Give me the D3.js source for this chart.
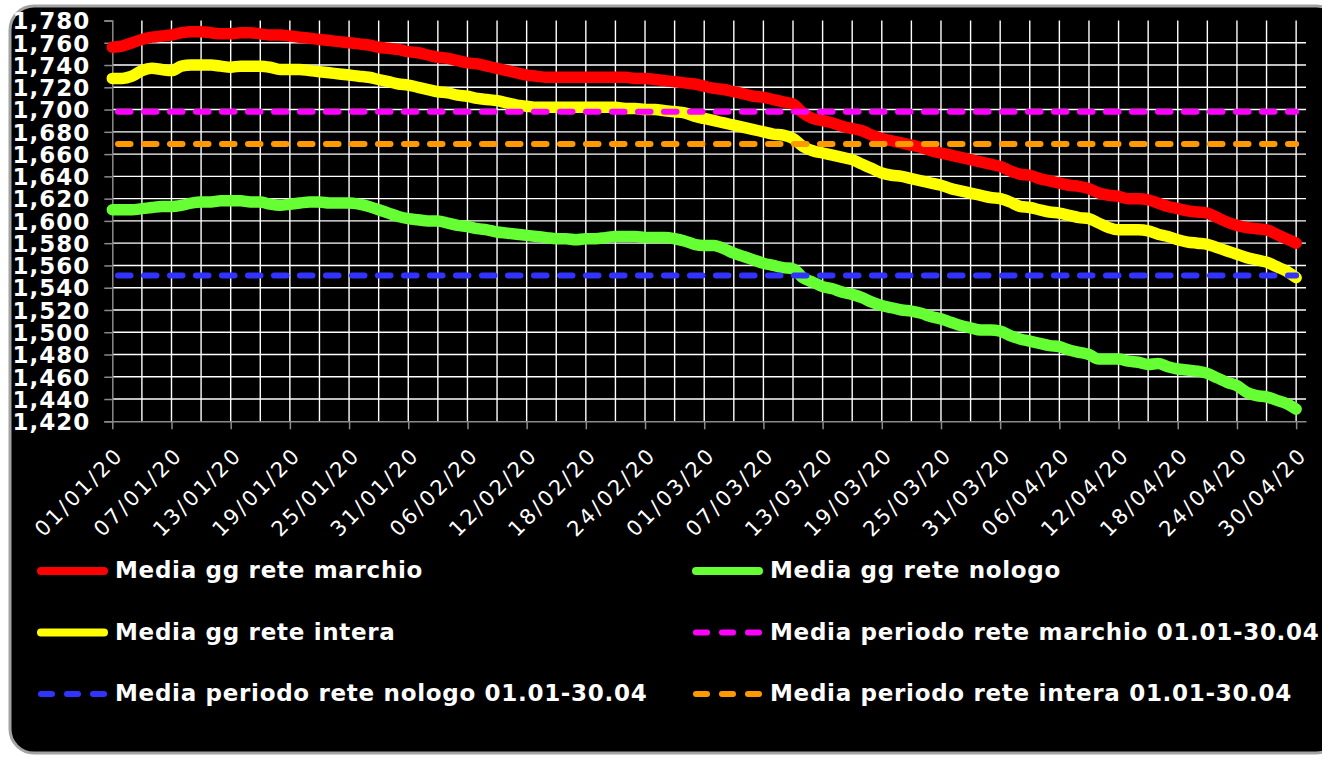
<!DOCTYPE html>
<html>
<head>
<meta charset="utf-8">
<script src="https://d3js.org/d3.v7.min.js"></script>
<style>
  html, body { margin: 0; padding: 0; background: #fff; }
  svg { display: block; font-family: 'DejaVu Sans', Verdana, sans-serif; }
</style>
</head>
<body>
<script>
// daily values from 01/01/20 to 30/04/20
const startDate = new Date(2020, 0, 1)

const marchio = [
  1756, 1757, 1760, 1763, 1765, 1766, 1767, 1769, 1770, 1770,
  1769, 1768, 1768, 1769, 1769, 1768, 1767, 1767, 1766, 1765,
  1764, 1763, 1762, 1761, 1760, 1759, 1758, 1756, 1755, 1754,
  1752, 1751, 1749, 1747, 1746, 1744, 1742, 1741, 1739, 1737,
  1735, 1733, 1731, 1730, 1729, 1729, 1729, 1729, 1729, 1729,
  1729, 1729, 1729, 1728, 1728, 1727, 1726, 1725, 1724, 1723,
  1721, 1719, 1718, 1716, 1714, 1712, 1711, 1709, 1707, 1705,
  1697, 1692, 1690, 1688, 1685, 1683, 1681, 1677, 1674, 1672,
  1670, 1668, 1666, 1663, 1661, 1659, 1657, 1655, 1653, 1651,
  1649, 1645, 1642, 1641, 1638, 1636, 1634, 1632, 1631, 1629,
  1625, 1623, 1622, 1620, 1620, 1619, 1616, 1613, 1611, 1609,
  1608, 1607, 1603, 1599, 1596, 1594, 1593, 1592, 1588, 1584,
  1580
]

const intera = [
  1728, 1728, 1730, 1735, 1737, 1736, 1735, 1739, 1740, 1740,
  1740, 1739, 1738, 1739, 1739, 1739, 1738, 1736, 1736, 1736,
  1735, 1734, 1733, 1732, 1731, 1730, 1729, 1727, 1725, 1723,
  1722, 1720, 1718, 1716, 1715, 1713, 1712, 1710, 1709, 1708,
  1706, 1704, 1703, 1702, 1702, 1702, 1702, 1702, 1702, 1702,
  1702, 1702, 1701, 1701, 1700, 1700, 1699, 1698, 1697, 1694,
  1692, 1690, 1688, 1686, 1684, 1682, 1680, 1678, 1677, 1674,
  1667, 1663, 1661, 1659, 1657, 1655, 1651, 1647, 1643, 1641,
  1640, 1638, 1636, 1634, 1632, 1629, 1627, 1625, 1623, 1621,
  1620, 1617, 1613, 1612, 1610, 1608, 1607, 1605, 1603, 1602,
  1598, 1594, 1592, 1592, 1592, 1591, 1588, 1586, 1583, 1581,
  1580, 1579, 1576, 1573, 1570, 1567, 1565, 1563, 1559, 1555,
  1549
]

const nologo = [
  1610, 1610, 1610, 1611, 1612, 1613, 1613, 1614, 1616, 1617,
  1617, 1618, 1618, 1618, 1617, 1617, 1615, 1614, 1615, 1616,
  1617, 1617, 1616, 1616, 1616, 1615, 1613, 1610, 1607, 1604,
  1602, 1601, 1600, 1600, 1598, 1596, 1595, 1593, 1592, 1590,
  1589, 1588, 1587, 1586, 1585, 1584, 1584, 1583, 1584, 1584,
  1585, 1586, 1586, 1586, 1585, 1585, 1585, 1584, 1582, 1579,
  1578, 1578, 1575, 1571, 1568, 1565, 1562, 1560, 1558, 1557,
  1549, 1545, 1541, 1539, 1536, 1534, 1531, 1527, 1524, 1522,
  1520, 1519, 1517, 1514, 1512, 1509, 1506, 1504, 1502, 1502,
  1501, 1497, 1494, 1492, 1490, 1488, 1487, 1484, 1482, 1480,
  1476, 1476, 1476, 1474, 1473, 1471, 1472, 1469, 1467, 1466,
  1465, 1463, 1459, 1455, 1452, 1446, 1443, 1442, 1439, 1436,
  1431
]

// period averages 01.01-30.04
const avgMarchio = 1698
const avgNologo = 1551
const avgIntera = 1669

const xTickLabels = [
  '01/01/20', '07/01/20', '13/01/20', '19/01/20', '25/01/20', '31/01/20',
  '06/02/20', '12/02/20', '18/02/20', '24/02/20', '01/03/20', '07/03/20',
  '13/03/20', '19/03/20', '25/03/20', '31/03/20', '06/04/20', '12/04/20',
  '18/04/20', '24/04/20', '30/04/20'
]

const yTicks = d3.range(1420, 1781, 20)

const seriesNames = [
  'Media gg rete marchio',
  'Media gg rete nologo',
  'Media gg rete intera',
  'Media periodo rete marchio 01.01-30.04',
  'Media periodo rete nologo 01.01-30.04',
  'Media periodo rete intera 01.01-30.04'
]

const width = 1322
const height = 757
const plot = { left: 112.3, right: 1306, top: 20.5, bottom: 421.3 }

const dates = marchio.map((d, i) => d3.timeDay.offset(startDate, i))
const lastDate = dates[dates.length - 1]

// category axis ends a bit past the last point, like the source
const xScale = d3.scaleTime()
  .domain([startDate, d3.timeDay.offset(startDate, 121.85)])
  .range([plot.left, plot.right])
const yScale = d3.scaleLinear()
  .domain([1420, 1780])
  .range([plot.bottom, plot.top])

const svg = d3.select('body').append('svg')
  .attr('width', width)
  .attr('height', height)

// frame
svg.append('rect')
  .attr('x', 10).attr('y', 6)
  .attr('width', 1330).attr('height', 747)
  .attr('rx', 24).attr('ry', 24)
  .attr('fill', '#000')
  .attr('stroke', '#a3a3a3')
  .attr('stroke-width', 3)

// gridlines
const grid = svg.append('g').attr('class', 'grid')
grid.selectAll('line.h')
  .data(yTicks.filter(v => v > 1420 && v < 1780))
  .join('line')
  .attr('class', 'h')
  .attr('x1', plot.left).attr('x2', plot.right)
  .attr('y1', d => yScale(d)).attr('y2', d => yScale(d))
  .attr('stroke', '#fff').attr('stroke-width', 1.4)

const gridDays = dates.filter((d, i) => i > 0 && i % 3 === 0)
grid.selectAll('line.v')
  .data(gridDays)
  .join('line')
  .attr('class', 'v')
  .attr('x1', d => xScale(d)).attr('x2', d => xScale(d))
  .attr('y1', plot.top).attr('y2', plot.bottom)
  .attr('stroke', '#fff').attr('stroke-width', 1.4)

// y axis
const yAxis = svg.append('g')
  .attr('transform', `translate(${plot.left},0)`)
  .call(d3.axisLeft(yScale).tickValues(yTicks).tickSize(8).tickPadding(14)
    .tickFormat(d3.format(',')))
yAxis.select('.domain').attr('stroke', '#8a8a8a').attr('stroke-width', 1.5)
yAxis.selectAll('.tick line').attr('stroke', '#8a8a8a').attr('stroke-width', 1.5)
yAxis.selectAll('.tick text')
  .attr('fill', '#fff')
  .attr('font-family', "'DejaVu Sans', Verdana, sans-serif")
  .attr('font-weight', 'bold')
  .attr('font-size', 23)
  .attr('letter-spacing', 1)
  .attr('dy', '0.36em')

// x axis
const xTickDates = xTickLabels.map(s => d3.timeParse('%d/%m/%y')(s))
const xAxis = svg.append('g')
  .attr('transform', `translate(0,${plot.bottom})`)
  .call(d3.axisBottom(xScale).tickValues(xTickDates).tickSize(8)
    .tickFormat((d, i) => xTickLabels[i]).tickSizeOuter(0))
xAxis.select('.domain').attr('stroke', '#8a8a8a').attr('stroke-width', 1.5)
xAxis.selectAll('.tick line').attr('stroke', '#8a8a8a').attr('stroke-width', 1.5)
xAxis.selectAll('.tick text')
  .attr('fill', '#fff')
  .attr('font-family', "'DejaVu Sans', Verdana, sans-serif")
  .attr('font-size', 21)
  .attr('letter-spacing', 2.6)
  .attr('text-anchor', 'end')
  .attr('dy', 0)
  .attr('y', 0)
  .attr('transform', 'translate(12,35) rotate(-45)')

// series
const line = d3.line()
  .x((d, i) => xScale(dates[i]))
  .y(d => yScale(d))
  .curve(d3.curveMonotoneX)

const solid = [
  { values: marchio, color: '#ff0000' },
  { values: nologo, color: '#66ff33' },
  { values: intera, color: '#ffff00' }
]
svg.append('g').selectAll('path')
  .data(solid)
  .join('path')
  .attr('d', d => line(d.values))
  .attr('fill', 'none')
  .attr('stroke', d => d.color)
  .attr('stroke-width', 11.5)
  .attr('stroke-linejoin', 'round')
  .attr('stroke-linecap', 'round')

const dashed = [
  { value: avgMarchio, color: '#ff00ff' },
  { value: avgNologo, color: '#3333ff' },
  { value: avgIntera, color: '#ff9900' }
]
svg.append('g').selectAll('line')
  .data(dashed)
  .join('line')
  .attr('x1', xScale(startDate)).attr('x2', xScale(lastDate))
  .attr('y1', d => yScale(d.value)).attr('y2', d => yScale(d.value))
  .attr('stroke', d => d.color)
  .attr('stroke-width', 6)
  .attr('stroke-linecap', 'round')
  .attr('stroke-dasharray', '12.5,13.5')
  .attr('stroke-dashoffset', 20.3)

// legend, filled row by row in two columns
const legendItems = seriesNames.map((name, i) => ({
  name,
  color: [solid[0].color, solid[1].color, solid[2].color, dashed[0].color, dashed[1].color, dashed[2].color][i],
  dashed: i >= 3
}))
const legend = svg.append('g')
  .selectAll('g')
  .data(legendItems)
  .join('g')
  .attr('transform', (d, i) => `translate(${i % 2 === 0 ? 37 : 692},${571 + Math.floor(i / 2) * 61.5})`)

legend.append('line')
  .attr('x1', 4).attr('x2', d => d.dashed ? 68 : 67)
  .attr('y1', 0).attr('y2', 0)
  .attr('stroke', d => d.color)
  .attr('stroke-width', d => d.dashed ? 6 : 8)
  .attr('stroke-linecap', 'round')
  .attr('stroke-dasharray', d => d.dashed ? '11,15' : null)

legend.append('text')
  .attr('x', 78)
  .attr('y', 7)
  .attr('fill', '#fff')
  .attr('font-weight', 'bold')
  .attr('font-size', 23)
  .attr('letter-spacing', 0.7)
  .text(d => d.name)
</script>
</body>
</html>
